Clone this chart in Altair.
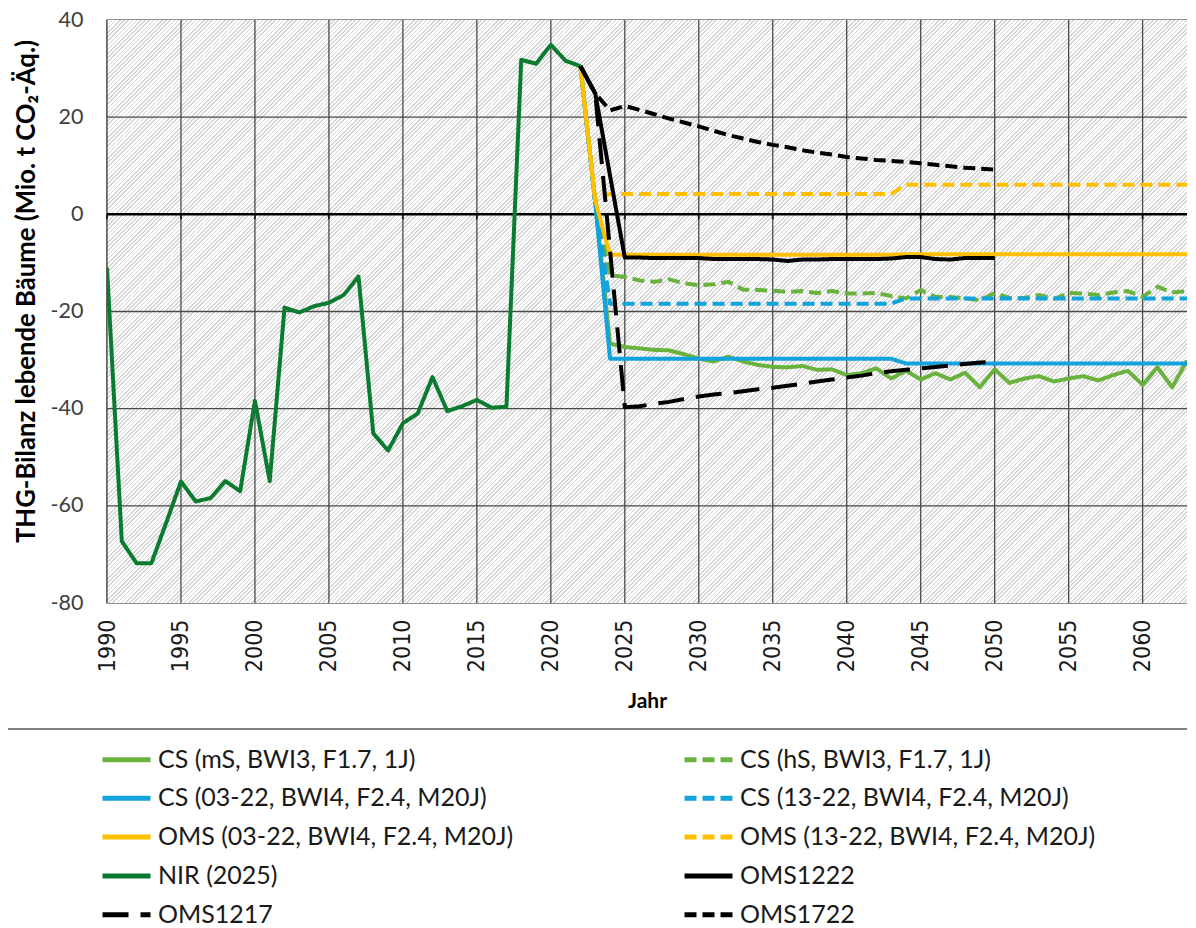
import altair as alt
import pandas as pd

# ---------------- data ----------------
series_names = [
    "CS (mS, BWI3, F1.7, 1J)",
    "CS (hS, BWI3, F1.7, 1J)",
    "CS (03-22, BWI4, F2.4, M20J)",
    "CS (13-22, BWI4, F2.4, M20J)",
    "OMS (03-22, BWI4, F2.4, M20J)",
    "OMS (13-22, BWI4, F2.4, M20J)",
    "NIR (2025)",
    "OMS1222",
    "OMS1217",
    "OMS1722",
]
series_colors = ["#6AB23E", "#6AB23E", "#12A2DC", "#12A2DC", "#FFC000", "#FFC000",
                 "#0B7B30", "#000000", "#000000", "#000000"]
series_dashes = [[1, 0], [12, 6], [1, 0], [12, 6], [1, 0], [12, 6],
                 [1, 0], [1, 0], [26, 12], [12, 6]]

years_nir = list(range(1990, 2023))
nir = [-11.0, -67.3, -71.8, -71.8, -63.5, -55.0, -59.1, -58.4, -54.9, -57.0,
       -38.4, -54.9, -19.2, -20.2, -18.9, -18.2, -16.6, -12.8, -45.1, -48.6,
       -43.0, -41.0, -33.5, -40.5, -39.5, -38.2, -39.8, -39.6, 31.8, 31.0,
       34.9, 31.6, 30.5]

years_proj = list(range(2022, 2064))
cs_ms = [30.5, 2.5, -26.6, -27.3, -27.6, -27.9, -28.0, -28.8, -29.7, -30.3,
         -29.3, -30.3, -31.0, -31.4, -31.5, -31.2, -32.0, -31.9, -33.1, -32.7,
         -31.7, -33.8, -32.2, -34.0, -32.7, -34.0, -32.6, -35.6, -31.9, -34.7,
         -33.8, -33.3, -34.4, -33.8, -33.3, -34.2, -33.1, -32.2, -35.1, -31.5,
         -35.6, -30.1]
cs_hs = [30.5, 2.5, -12.5, -12.9, -13.6, -13.9, -13.4, -14.2, -14.6, -14.4,
         -13.9, -15.5, -15.6, -15.7, -16.0, -15.8, -16.2, -15.8, -16.3, -16.3,
         -16.2, -16.8, -17.3, -15.6, -17.0, -17.0, -17.3, -17.7, -16.2, -17.2,
         -17.2, -16.6, -17.4, -16.2, -16.3, -16.6, -16.1, -15.8, -17.0, -14.9,
         -16.1, -15.8]
cs_0322 = [30.5, 2.5, -29.7, -29.7, -29.7, -29.7, -29.7, -29.7, -29.7, -29.7,
           -29.7, -29.7, -29.7, -29.7, -29.7, -29.7, -29.7, -29.7, -29.7, -29.7,
           -29.7, -29.7, -30.7, -30.7, -30.7, -30.7, -30.7, -30.7, -30.7, -30.7,
           -30.7, -30.7, -30.7, -30.7, -30.7, -30.7, -30.7, -30.7, -30.7, -30.7,
           -30.7, -30.7]
cs_1322 = [30.5, 2.5, -18.4, -18.4, -18.4, -18.4, -18.4, -18.4, -18.4, -18.4,
           -18.4, -18.4, -18.4, -18.4, -18.4, -18.4, -18.4, -18.4, -18.4, -18.4,
           -18.4, -18.4, -17.3, -17.3, -17.3, -17.3, -17.3, -17.3, -17.3, -17.3,
           -17.3, -17.3, -17.3, -17.3, -17.3, -17.3, -17.3, -17.3, -17.3, -17.3,
           -17.3, -17.3]
oms_0322 = [30.5, 2.9, -8.3, -8.3, -8.3, -8.3, -8.3, -8.3, -8.3, -8.3,
            -8.3, -8.3, -8.3, -8.3, -8.3, -8.3, -8.3, -8.3, -8.3, -8.3,
            -8.3, -8.3, -8.2, -8.2, -8.2, -8.2, -8.2, -8.2, -8.2, -8.2,
            -8.2, -8.2, -8.2, -8.2, -8.2, -8.2, -8.2, -8.2, -8.2, -8.2,
            -8.2, -8.2]
oms_1322 = [30.5, 2.9, 4.2, 4.2, 4.2, 4.2, 4.2, 4.2, 4.2, 4.2,
            4.2, 4.2, 4.2, 4.2, 4.2, 4.2, 4.2, 4.2, 4.2, 4.2,
            4.2, 4.2, 6.1, 6.1, 6.1, 6.1, 6.1, 6.1, 6.1, 6.1,
            6.1, 6.1, 6.1, 6.1, 6.1, 6.1, 6.1, 6.1, 6.1, 6.1,
            6.1, 6.1]

years_oms_a = [2022, 2023] + list(range(2025, 2051))
oms1222 = [30.5, 24.9, -8.9, -8.9, -9.0, -9.0, -9.0, -9.0, -9.2, -9.2,
           -9.2, -9.2, -9.3, -9.6, -9.3, -9.3, -9.2, -9.2, -9.2, -9.2,
           -9.1, -8.8, -8.8, -9.2, -9.3, -9.0, -9.0, -9.0]
oms1217 = [30.5, 24.9, -39.7, -39.5, -39.0, -38.6, -38.0, -37.5, -37.1, -36.8,
           -36.4, -36.0, -35.7, -35.3, -34.9, -34.4, -34.0, -33.6, -33.2, -32.7,
           -32.3, -32.0, -31.7, -31.4, -31.1, -30.8, -30.5, -30.3]
years_oms_b = list(range(2022, 2051))
oms1722 = [30.5, 24.9, 21.4, 22.3, 21.5, 20.6, 19.7, 18.9, 18.1, 17.2,
           16.3, 15.6, 14.9, 14.3, 13.8, 13.2, 12.7, 12.3, 11.8, 11.5,
           11.2, 11.0, 10.8, 10.5, 10.2, 9.9, 9.6, 9.4, 9.2]

x_ticks = [1990, 1995, 2000, 2005, 2010, 2015, 2020, 2025, 2030, 2035,
           2040, 2045, 2050, 2055, 2060]
y_ticks = [-80, -60, -40, -20, 0, 20, 40]
y_grid = [-60, -40, -20, 20]

series_data = [
    (series_names[0], years_proj, cs_ms),
    (series_names[1], years_proj, cs_hs),
    (series_names[2], years_proj, cs_0322),
    (series_names[3], years_proj, cs_1322),
    (series_names[4], years_proj, oms_0322),
    (series_names[5], years_proj, oms_1322),
    (series_names[6], years_nir, nir),
    (series_names[7], years_oms_a, oms1222),
    (series_names[8], years_oms_a, oms1217),
    (series_names[9], years_oms_b, oms1722),
]
rows = []
for name, yrs, vals in series_data:
    for yr, v in zip(yrs, vals):
        rows.append({"series": name, "year": yr, "value": v})
df = pd.DataFrame(rows)

# legend is filled column by column: left column first, then right column
legend_order = series_names[0::2] + series_names[1::2]
color_of = dict(zip(series_names, series_colors))
dash_of = dict(zip(series_names, series_dashes))

# ---------------- layout / style ----------------
W, H = 1080, 583
FONT = "Lato"
GRID = "#4a4a4a"

# diagonal hatch for the plot background (linear gradient with hard stops)
N_STRIPES = 396
stops = []
for i in range(N_STRIPES):
    a = round(i / N_STRIPES, 6)
    b = round((i + 0.38) / N_STRIPES, 6)
    c = round((i + 1) / N_STRIPES, 6)
    stops += [{"offset": a, "color": "#d4d4d4"}, {"offset": b, "color": "#d4d4d4"},
              {"offset": b, "color": "#ffffff"}, {"offset": c, "color": "#ffffff"}]
ratio = H / W
k = (1 + ratio) / (1 + ratio * ratio)
hatch = alt.LinearGradient(gradient="linear", x1=0, y1=0, x2=round(k, 5),
                           y2=round(k * ratio, 5), stops=stops)

legend = alt.Legend(
    title=None, orient="none", legendX=-7, legendY=727, columns=2,
    symbolType="stroke", symbolSize=48 * 48, symbolStrokeWidth=5,
    clipHeight=25, rowPadding=12.8, columnPadding=168, padding=0,
    labelFont=FONT, labelFontSize=25, labelColor="#1a1a1a", labelLimit=700,
    labelOffset=5, symbolOffset=0,
)

x_scale = alt.Scale(domain=[1990, 2063], nice=False, zero=False)
y_scale = alt.Scale(domain=[-80, 40], nice=False, zero=False)

x_enc = alt.X(
    "year:Q", scale=x_scale,
    axis=alt.Axis(
        values=x_ticks, format="d", title="Jahr", labelAngle=270,
        labelFont="DejaVu Sans Condensed, DejaVu Sans", labelFontSize=23,
        labelColor="#1a1a1a", labelPadding=16, labelFlush=False, labelOverlap=False,
        ticks=False, domain=False, grid=False,
        titleFont=FONT, titleFontSize=21, titleFontWeight="bold", titleColor="#000000",
        titlePadding=19,
    ),
)
y_enc = alt.Y(
    "value:Q", scale=y_scale,
    axis=alt.Axis(
        values=y_ticks, labelExpr="toString(datum.value)",
        title="THG-Bilanz lebende Bäume (Mio. t CO₂-Äq.)",
        labelFont=FONT, labelFontSize=21.5, labelColor="#404040", labelPadding=24,
        labelFlush=False, ticks=False, domain=False, grid=False,
        titleFont=FONT, titleFontSize=25.7, titleFontWeight="bold", titleColor="#000000",
        titlePadding=11, titleY=271,
    ),
)

background = alt.Chart(pd.DataFrame({"k": [0]})).mark_rect(
    fill=hatch, stroke=None
).encode(x=alt.value(0), x2=alt.value(W), y=alt.value(0), y2=alt.value(H))

vgrid = alt.Chart(pd.DataFrame({"g": x_ticks})).mark_rule(
    color=GRID, strokeWidth=1.3
).encode(x=alt.X("g:Q", scale=x_scale))

hgrid = alt.Chart(pd.DataFrame({"g": y_grid})).mark_rule(
    color=GRID, strokeWidth=1.3
).encode(y=alt.Y("g:Q", scale=y_scale))

zero_line = alt.Chart(pd.DataFrame({"v": [0]})).mark_rule(
    color="#000000", strokeWidth=2.5
).encode(y=alt.Y("v:Q", scale=y_scale))

zero_ticks = alt.Chart(pd.DataFrame({"year": x_ticks})).mark_tick(
    orient="vertical", size=5, thickness=2, color="#000000", yOffset=2.5
).encode(x=alt.X("year:Q", scale=x_scale), y=alt.datum(0))

lines = alt.Chart(df).mark_line(
    strokeWidth=4, strokeJoin="round", strokeCap="butt", clip=True
).encode(
    x=x_enc,
    y=y_enc,
    color=alt.Color("series:N",
                    scale=alt.Scale(domain=legend_order,
                                    range=[color_of[s] for s in legend_order]),
                    legend=legend),
    strokeDash=alt.StrokeDash("series:N",
                              scale=alt.Scale(domain=legend_order,
                                              range=[dash_of[s] for s in legend_order]),
                              legend=legend),
    order=alt.Order("year:Q"),
)

separator = alt.Chart(pd.DataFrame({"k": [0]})).mark_rule(
    color="#595959", strokeWidth=1.5
).encode(x=alt.value(-110), x2=alt.value(W + 20), y=alt.value(709))

chart = alt.layer(background, vgrid, hgrid, zero_line, zero_ticks, lines, separator).properties(
    width=W, height=H,
    padding={"left": 99, "top": 12, "right": 0, "bottom": 336},
    autosize=alt.AutoSizeParams(type="none"),
    background="#ffffff",
).configure_view(stroke="#6e6e6e", strokeWidth=1.5)

chart.save("out.html", embed_options={"renderer": "svg", "actions": False})
